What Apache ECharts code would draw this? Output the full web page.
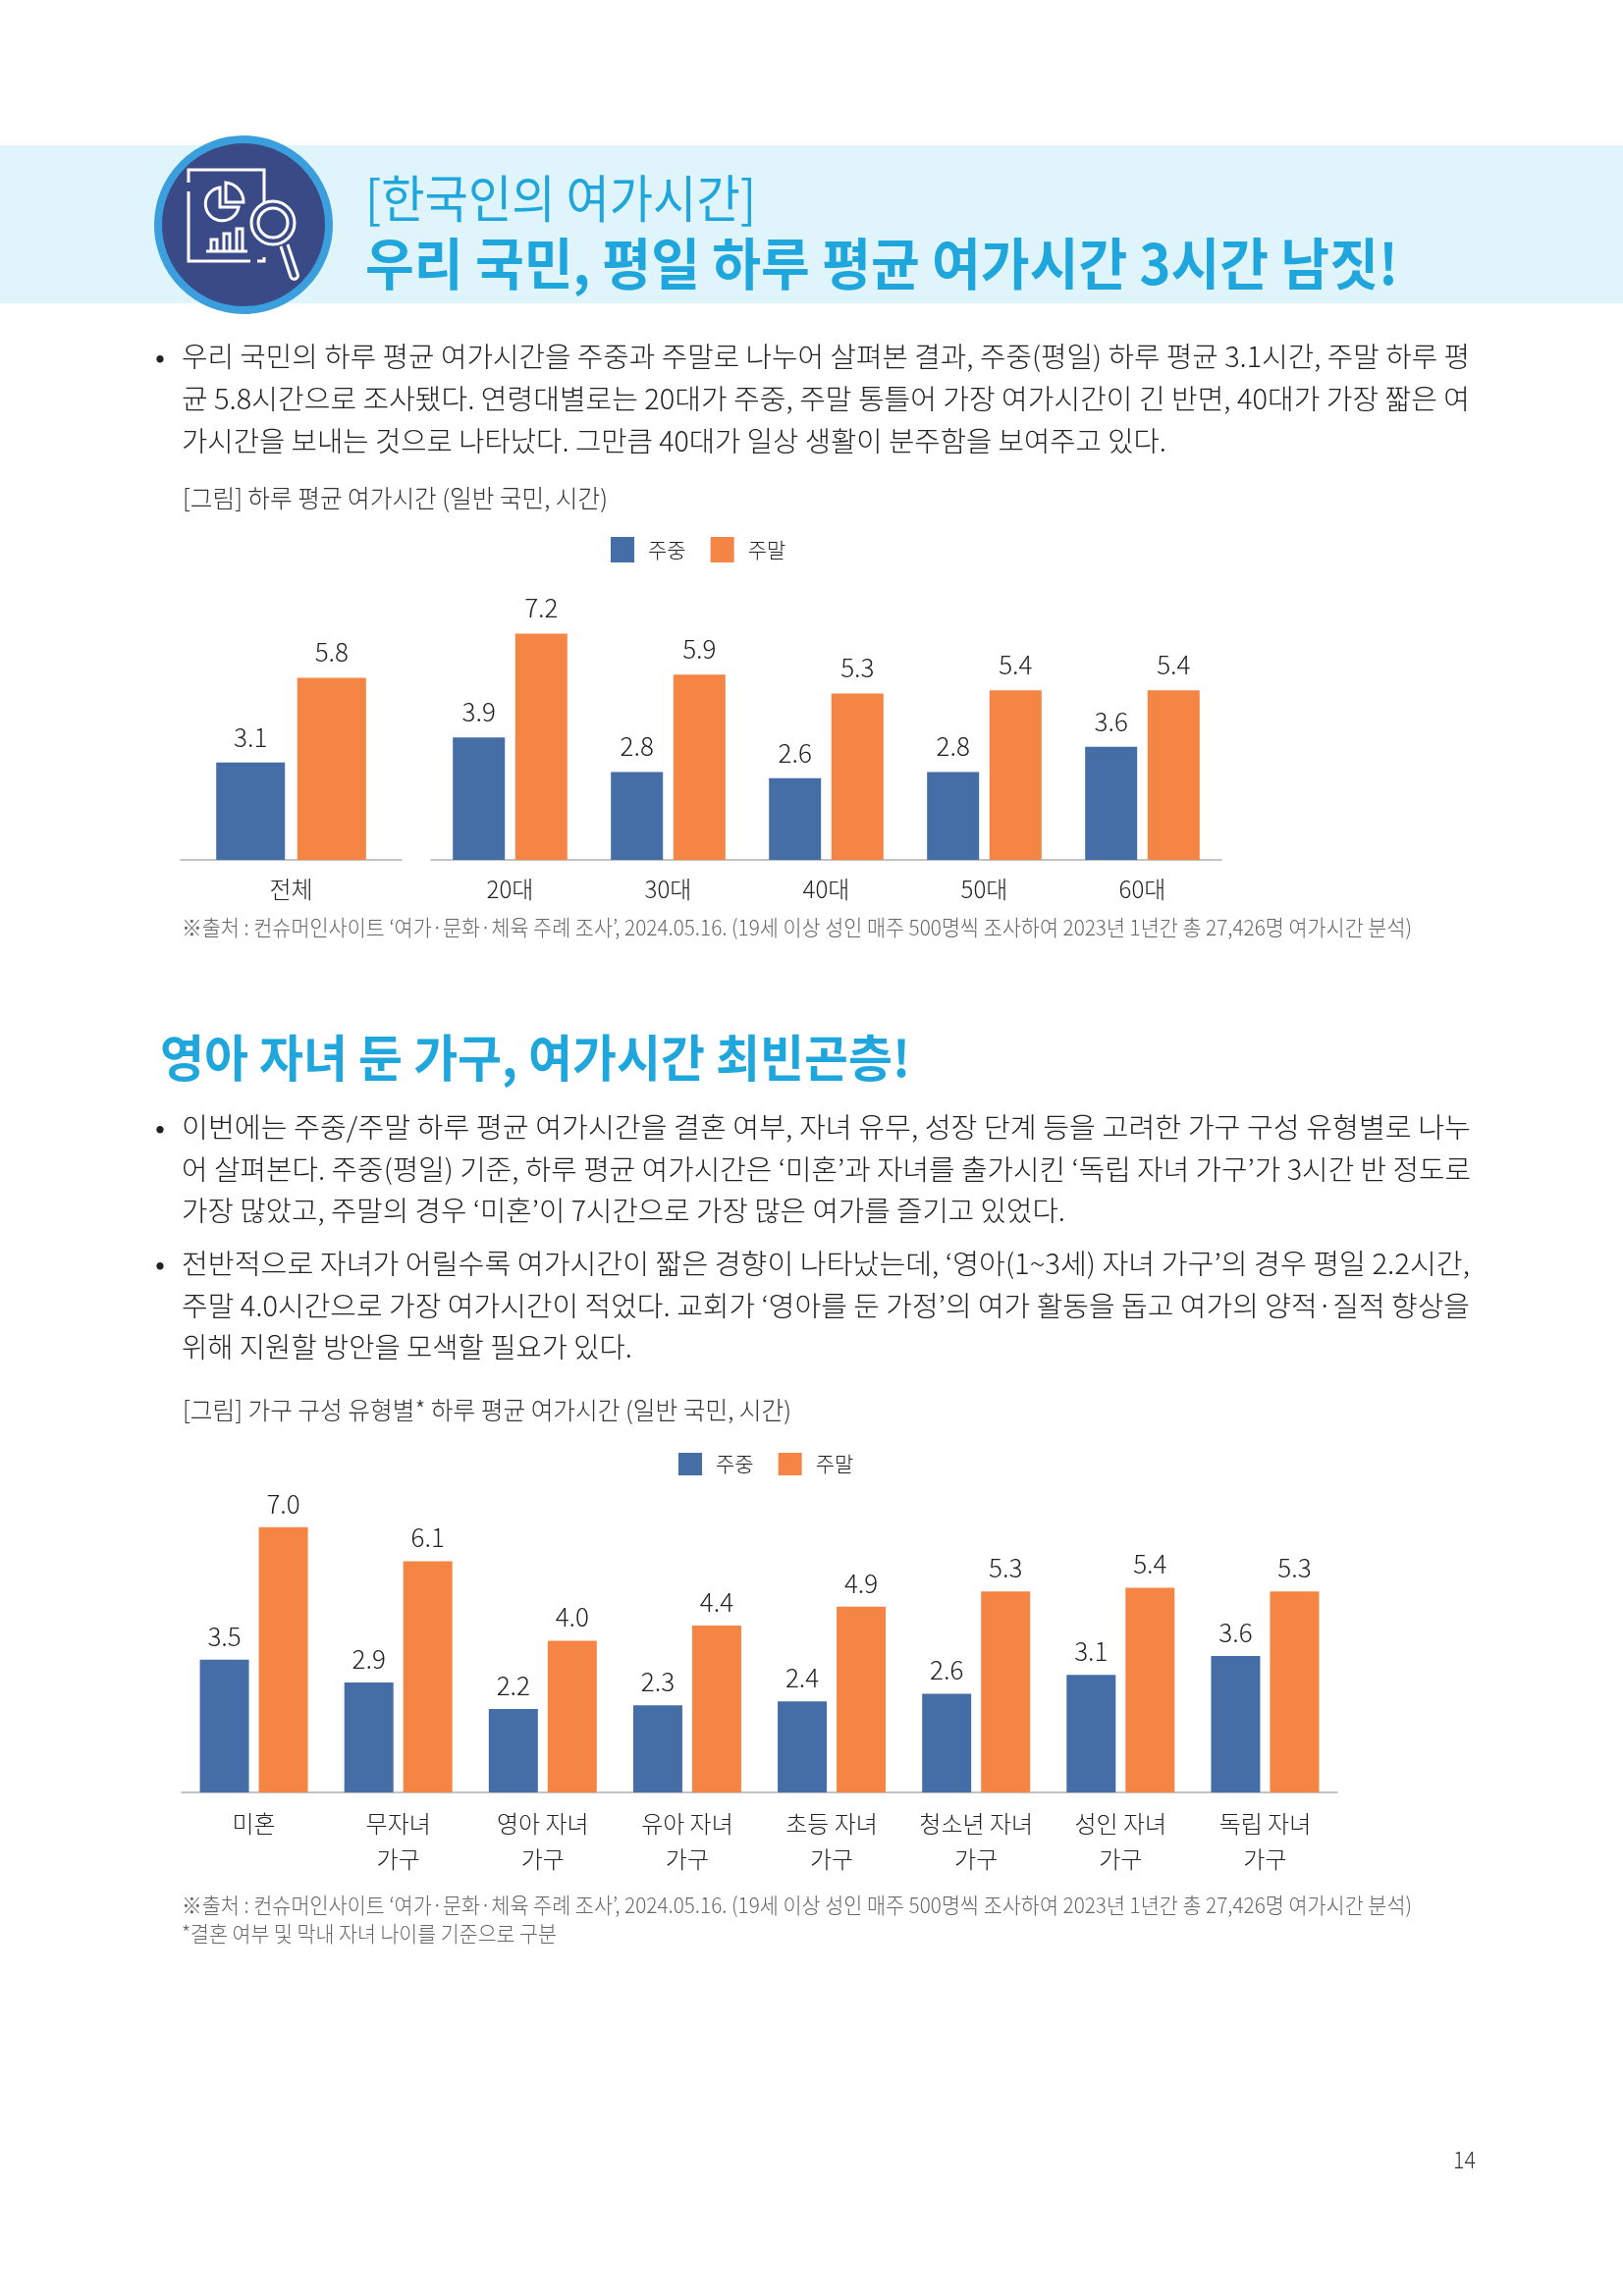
<!DOCTYPE html>
<html>
<head>
<meta charset="utf-8">
<title>한국인의 여가시간</title>
<script src="https://cdn.jsdelivr.net/npm/echarts@6/dist/echarts.min.js"></script>
<style>
html,body{margin:0;padding:0;background:#fff}
#page{position:relative;width:1653px;height:2339px;overflow:hidden;font-family:"Noto Sans CJK KR","Noto Sans",sans-serif}
#band{position:absolute;left:0;top:148px;width:1653px;height:161px;background:#dff4fb}
#icon{position:absolute;left:150px;top:130px}
#chart{position:absolute;left:0;top:0;width:1653px;height:2339px}
.t{position:absolute;white-space:nowrap;transform-origin:0 50%;line-height:1}
</style>
</head>
<body>
<div id="page">
  <div id="band"></div>
  <svg id="icon" width="200" height="200" viewBox="150 130 200 200" fill="none" stroke="#fff" stroke-width="3">
    <circle cx="248" cy="229" r="87" fill="#3a4a87" stroke="#3a9fdc" stroke-width="8"/>
    <path d="M192 186V173H269V232M192 195V266H255M262 266H269V262"/>
    <path d="M224 191A17 17 0 1 0 243 211H224Z"/>
    <path d="M230 186A20 20 0 0 1 248 206H230Z"/>
    <path d="M210 256H252M215 256V244H221V256M228 256V238H234V256M241 256V233H247V256"/>
    <circle cx="278" cy="227" r="22" fill="#3a4a87"/>
    <circle cx="278" cy="227" r="15"/>
    <path d="M286 251L296 282C299 287 305 283 303 279L293 249"/>
  </svg>
  <div id="chart"></div>
</div>
<script>
// 그림 1
var ageCats = ['20대', '30대', '40대', '50대', '60대'];
var ageWeekday = [3.9, 2.8, 2.6, 2.8, 3.6];
var ageWeekend = [7.2, 5.9, 5.3, 5.4, 5.4];
var totalCats = ['전체'];
var totalWeekday = [3.1];
var totalWeekend = [5.8];
// 그림 2
var houseCats = ['미혼', '무자녀\n가구', '영아 자녀\n가구', '유아 자녀\n가구', '초등 자녀\n가구', '청소년 자녀\n가구', '성인 자녀\n가구', '독립 자녀\n가구'];
var houseWeekday = [3.5, 2.9, 2.2, 2.3, 2.4, 2.6, 3.1, 3.6];
var houseWeekend = [7.0, 6.1, 4.0, 4.4, 4.9, 5.3, 5.4, 5.3];

var BLUE = '#456da6', ORANGE = '#f58545';
var FONT = '"Noto Sans CJK KR"';

// [text, left, right, center y, size, weight, color]
var lines = [
  ['[한국인의 여가시간]', 372, 770, 200, 52, 400, '#1fa6dc'],
  ['우리 국민, 평일 하루 평균 여가시간 3시간 남짓!', 372, 1424, 265, 57, 700, '#1fa6dc'],
  ['•', 158, 168, 362, 28, 400, '#222'],
  ['우리 국민의 하루 평균 여가시간을 주중과 주말로 나누어 살펴본 결과, 주중(평일) 하루 평균 3.1시간, 주말 하루 평', 185, 1497, 362, 28, 300, '#222'],
  ['균 5.8시간으로 조사됐다. 연령대별로는 20대가 주중, 주말 통틀어 가장 여가시간이 긴 반면, 40대가 가장 짧은 여', 185, 1497, 405, 28, 300, '#222'],
  ['가시간을 보내는 것으로 나타났다. 그만큼 40대가 일상 생활이 분주함을 보여주고 있다.', 185, 1188, 448, 28, 300, '#222'],
  ['[그림] 하루 평균 여가시간 (일반 국민, 시간)', 186, 619, 506, 25, 300, '#333'],
  ['※출처 : 컨슈머인사이트 ‘여가·문화·체육 주례 조사’, 2024.05.16. (19세 이상 성인 매주 500명씩 조사하여 2023년 1년간 총 27,426명 여가시간 분석)', 185, 1438, 943, 22, 300, '#666'],
  ['영아 자녀 둔 가구, 여가시간 최빈곤층!', 163, 927, 1075, 51, 700, '#1fa6dc'],
  ['•', 158, 168, 1147, 28, 400, '#222'],
  ['이번에는 주중/주말 하루 평균 여가시간을 결혼 여부, 자녀 유무, 성장 단계 등을 고려한 가구 구성 유형별로 나누', 185, 1498, 1147, 28, 300, '#222'],
  ['어 살펴본다. 주중(평일) 기준, 하루 평균 여가시간은 ‘미혼’과 자녀를 출가시킨 ‘독립 자녀 가구’가 3시간 반 정도로', 185, 1498, 1190, 28, 300, '#222'],
  ['가장 많았고, 주말의 경우 ‘미혼’이 7시간으로 가장 많은 여가를 즐기고 있었다.', 185, 1085, 1232, 28, 300, '#222'],
  ['•', 158, 168, 1286, 28, 400, '#222'],
  ['전반적으로 자녀가 어릴수록 여가시간이 짧은 경향이 나타났는데, ‘영아(1~3세) 자녀 가구’의 경우 평일 2.2시간,', 185, 1497, 1286, 28, 300, '#222'],
  ['주말 4.0시간으로 가장 여가시간이 적었다. 교회가 ‘영아를 둔 가정’의 여가 활동을 돕고 여가의 양적·질적 향상을', 185, 1497, 1329, 28, 300, '#222'],
  ['위해 지원할 방안을 모색할 필요가 있다.', 185, 644, 1371, 28, 300, '#222'],
  ['[그림] 가구 구성 유형별* 하루 평균 여가시간 (일반 국민, 시간)', 186, 806, 1435, 25, 300, '#333'],
  ['※출처 : 컨슈머인사이트 ‘여가·문화·체육 주례 조사’, 2024.05.16. (19세 이상 성인 매주 500명씩 조사하여 2023년 1년간 총 27,426명 여가시간 분석)', 185, 1438, 1939, 22, 300, '#666'],
  ['*결혼 여부 및 막내 자녀 나이를 기준으로 구분', 185, 567, 1968, 22, 300, '#666'],
  ['14', 1480, 1503, 2199, 24, 300, '#333']
];

var page = document.getElementById('page');
lines.forEach(function (l) {
  var d = document.createElement('div');
  d.className = 't';
  d.textContent = l[0];
  d.style.left = l[1] + 'px';
  d.style.top = (l[3] - l[4] / 2) + 'px';
  d.style.fontSize = l[4] + 'px';
  d.style.fontWeight = l[5];
  d.style.color = l[6];
  page.appendChild(d);
  // squeeze every line to the width it has in the page
  d.style.transform = 'scaleX(' + ((l[2] - l[1]) / d.getBoundingClientRect().width) + ')';
});

function barSeries(name, color, data, grid, width, gap, dist) {
  return {
    name: name,
    type: 'bar',
    xAxisIndex: grid,
    yAxisIndex: grid,
    data: data,
    barWidth: width,
    barGap: gap,
    silent: true,
    itemStyle: { color: color },
    label: {
      show: true,
      position: 'top',
      distance: dist,
      fontSize: 26,
      fontFamily: FONT,
      fontWeight: 300,
      color: '#222',
      formatter: function (p) { return p.value.toFixed(1); }
    }
  };
}

function catAxis(grid, data, margin) {
  return {
    type: 'category',
    gridIndex: grid,
    data: data,
    axisTick: { show: false },
    axisLine: { lineStyle: { color: '#b0b0b0', width: 1.5 } },
    axisLabel: { interval: 0, margin: margin, fontSize: 24, lineHeight: 36, fontFamily: FONT, fontWeight: 300, color: '#222' }
  };
}

function valAxis(grid) {
  return { type: 'value', gridIndex: grid, min: 0, max: 8, show: false, splitLine: { show: false } };
}

function legend(left, top, h) {
  return {
    data: ['주중', '주말'],
    left: left,
    top: top,
    padding: 0,
    itemWidth: 24,
    itemHeight: h,
    itemGap: 25,
    icon: 'rect',
    selectedMode: false,
    textStyle: { fontFamily: FONT, fontSize: 21, fontWeight: 300, color: '#222', padding: [0, 0, 0, 9] }
  };
}

var chart = echarts.init(document.getElementById('chart'), null, { width: 1653, height: 2339 });
chart.setOption({
  animation: false,
  legend: [legend(622, 547, 26), legend(691, 1480, 23)],
  grid: [
    { left: 184, top: 620, width: 225, height: 256 },
    { left: 439, top: 620, width: 805, height: 256 },
    { left: 185, top: 1517, width: 1177, height: 309 }
  ],
  xAxis: [catAxis(0, totalCats, 12), catAxis(1, ageCats, 12), catAxis(2, houseCats, 14)],
  yAxis: [valAxis(0), valAxis(1), valAxis(2)],
  series: [
    barSeries('주중', BLUE, totalWeekday, 0, 70, '18%', 13),
    barSeries('주말', ORANGE, totalWeekend, 0, 70, '18%', 13),
    barSeries('주중', BLUE, ageWeekday, 1, 53, '20%', 13),
    barSeries('주말', ORANGE, ageWeekend, 1, 53, '20%', 13),
    barSeries('주중', BLUE, houseWeekday, 2, 50, '20%', 11),
    barSeries('주말', ORANGE, houseWeekend, 2, 50, '20%', 11)
  ]
});
</script>
</body>
</html>
